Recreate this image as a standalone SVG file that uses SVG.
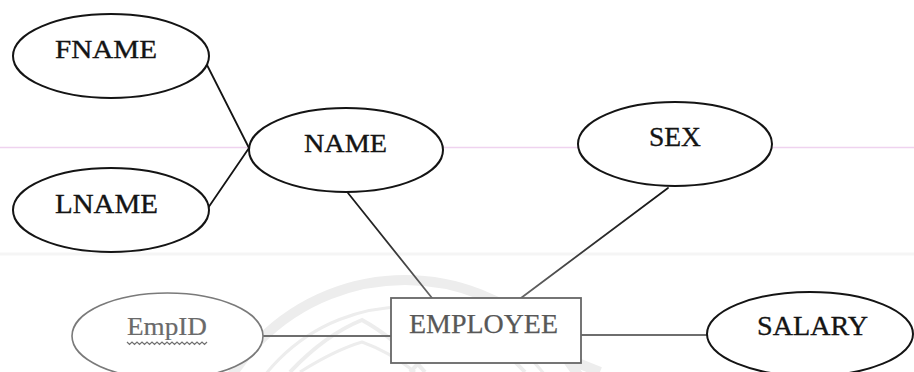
<svg xmlns="http://www.w3.org/2000/svg" width="914" height="372" viewBox="0 0 914 372">
  <defs>
    <style>
      .attr { fill: #ffffff; stroke: #141414; stroke-width: 2; }
      .faded { fill: #ffffff; stroke: #7a7a7a; stroke-width: 1.6; }
      .label { font-family: "Liberation Serif", "Times New Roman", serif; fill: #141414; stroke: #141414; stroke-width: 0.35; text-anchor: start; }
      .link { fill: none; stroke-width: 1.8; stroke-linecap: round; }
      .wm { fill: none; stroke: #ededed; }
    </style>
    <!-- lines fade from dark to grey toward the lower half of the page -->
    <linearGradient id="fade" gradientUnits="userSpaceOnUse" x1="0" y1="185" x2="0" y2="300">
      <stop offset="0" stop-color="#141414"/>
      <stop offset="0.45" stop-color="#2a2a2a"/>
      <stop offset="1" stop-color="#6a6a6a"/>
    </linearGradient>
  </defs>

  <rect width="914" height="372" fill="#ffffff"/>

  <!-- background emblem -->
  <g id="watermark" class="wm">
    <circle cx="405" cy="485" r="205" stroke-width="10"/>
    <circle cx="405" cy="485" r="178" stroke-width="3"/>
    <path d="M290 372 Q325 335 362 320 Q395 338 425 372" stroke-width="4"/>
    <path d="M410 372 Q440 340 470 330 Q500 345 525 372" stroke-width="4"/>
    <path d="M300 372 Q335 350 362 342 Q390 352 415 372" stroke-width="3"/>
    <path d="M545 350 L600 372" stroke-width="10"/>
  </g>

  <!-- ruling lines -->
  <line x1="0" y1="147.5" x2="914" y2="147.5" stroke="#efd3ef" stroke-width="1.5"/>
  <line x1="0" y1="254" x2="914" y2="254" stroke="#f5f5f5" stroke-width="3"/>

  <!-- connectors -->
  <g id="connectors">
    <line class="link" x1="207" y1="65" x2="249" y2="148" stroke="#141414"/>
    <line class="link" x1="208" y1="208" x2="249" y2="148" stroke="#141414"/>
    <line class="link" x1="348" y1="193" x2="432" y2="298" stroke="url(#fade)"/>
    <line class="link" x1="668" y1="188" x2="521" y2="298" stroke="url(#fade)"/>
    <line class="link" x1="263" y1="336" x2="391" y2="336" stroke="#6e6e6e"/>
    <line class="link" x1="581" y1="335" x2="707" y2="335" stroke="#6e6e6e"/>
  </g>

  <g id="fname">
    <ellipse class="attr" cx="111" cy="56" rx="98" ry="42"/>
    <text class="label" x="55" y="58" font-size="26" textLength="102" lengthAdjust="spacingAndGlyphs">FNAME</text>
  </g>

  <g id="lname">
    <ellipse class="attr" cx="111" cy="210" rx="98" ry="42"/>
    <text class="label" x="55" y="213" font-size="27" textLength="103" lengthAdjust="spacingAndGlyphs">LNAME</text>
  </g>

  <g id="name">
    <ellipse class="attr" cx="346" cy="150" rx="97" ry="42"/>
    <text class="label" x="304" y="152" font-size="25" textLength="83" lengthAdjust="spacingAndGlyphs">NAME</text>
  </g>

  <g id="sex">
    <ellipse class="attr" cx="675" cy="144" rx="97" ry="42"/>
    <text class="label" x="649" y="146" font-size="28" textLength="52" lengthAdjust="spacingAndGlyphs">SEX</text>
  </g>

  <g id="empid">
    <ellipse class="faded" cx="167.5" cy="336" rx="95.5" ry="43"/>
    <text class="label" x="127" y="335" font-size="26" style="fill:#6a6a6a;stroke:#6a6a6a;stroke-width:0.2" textLength="80" lengthAdjust="spacingAndGlyphs">EmpID</text>
    <path d="M127 342 l2.5 2.5 l2.5 -2.5 l2.5 2.5 l2.5 -2.5 l2.5 2.5 l2.5 -2.5 l2.5 2.5 l2.5 -2.5 l2.5 2.5 l2.5 -2.5 l2.5 2.5 l2.5 -2.5 l2.5 2.5 l2.5 -2.5 l2.5 2.5 l2.5 -2.5 l2.5 2.5 l2.5 -2.5 l2.5 2.5 l2.5 -2.5 l2.5 2.5 l2.5 -2.5 l2.5 2.5 l2.5 -2.5 l2.5 2.5 l2.5 -2.5 l2.5 2.5 l2.5 -2.5 l2.5 2.5 l2.5 -2.5 l2.5 2.5 l2.5 -2.5" fill="none" stroke="#707070" stroke-width="1.2"/>
  </g>

  <g id="employee">
    <rect x="391" y="298" width="190" height="65" fill="#ffffff" stroke="#666666" stroke-width="1.8"/>
    <text class="label" x="409" y="333" font-size="28" style="fill:#585858;stroke:#585858;stroke-width:0.25" textLength="149" lengthAdjust="spacingAndGlyphs">EMPLOYEE</text>
  </g>

  <g id="salary">
    <ellipse class="attr" cx="810" cy="334" rx="103" ry="42"/>
    <text class="label" x="757" y="335" font-size="28" textLength="111" lengthAdjust="spacingAndGlyphs">SALARY</text>
  </g>
</svg>
